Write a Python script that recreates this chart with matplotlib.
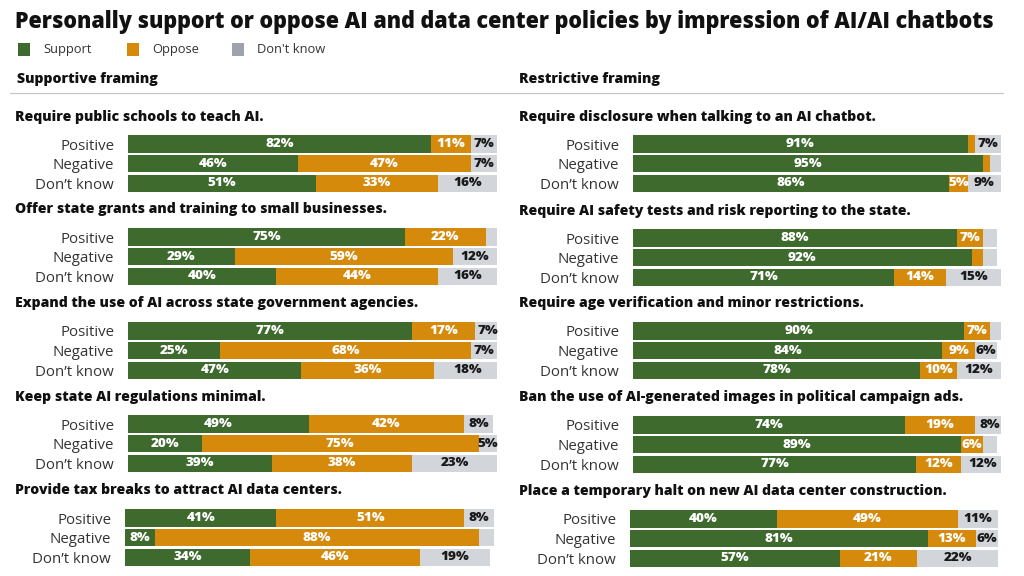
import numpy as np
import matplotlib
matplotlib.use("Agg")
import matplotlib.pyplot as plt
from matplotlib.patches import Rectangle

plt.rcParams['font.family'] = ['Open Sans', 'DejaVu Sans']

# Data (percent: support, oppose, don't know)
rows = ["Positive", "Negative", "Don\u2019t know"]

left_titles = [
    "Require public schools to teach AI.",
    "Offer state grants and training to small businesses.",
    "Expand the use of AI across state government agencies.",
    "Keep state AI regulations minimal.",
    "Provide tax breaks to attract AI data centers.",
]
left_support = [[82, 46, 51], [75, 29, 40], [77, 25, 47], [49, 20, 39], [41, 8, 34]]
left_oppose = [[11, 47, 33], [22, 59, 44], [17, 68, 36], [42, 75, 38], [51, 88, 46]]
left_dk = [[7, 7, 16], [3, 12, 16], [7, 7, 18], [8, 5, 23], [8, 4, 19]]

right_titles = [
    "Require disclosure when talking to an AI chatbot.",
    "Require AI safety tests and risk reporting to the state.",
    "Require age verification and minor restrictions.",
    "Ban the use of AI-generated images in political campaign ads.",
    "Place a temporary halt on new AI data center construction.",
]
right_support = [[91, 95, 86], [88, 92, 71], [90, 84, 78], [74, 89, 77], [40, 81, 57]]
right_oppose = [[2, 2, 5], [7, 3, 14], [7, 9, 10], [19, 6, 12], [49, 13, 21]]
right_dk = [[7, 3, 9], [4, 4, 15], [3, 6, 12], [8, 4, 12], [11, 6, 22]]

GREEN = "#3e6a2e"
ORANGE = "#d68a0c"
GRAY = "#d2d5da"
LEG_GRAY = "#9ea2aa"

W, H = 1024, 576
fig = plt.figure(figsize=(W / 100, H / 100), dpi=100)


def fx(px):
    return px / W


def fy(py):
    return 1 - py / H


fig.text(fx(15), fy(22), "Personally support or oppose AI and data center policies by impression of AI/AI chatbots",
         fontsize=15.5, fontweight="heavy", va="center", ha="left", color="#111111")

# legend
for x, lab, c in [(18, "Support", GREEN), (127, "Oppose", ORANGE), (232, "Don't know", LEG_GRAY)]:
    fig.patches.append(Rectangle((fx(x), fy(55.5)), fx(12), 12 / H, transform=fig.transFigure,
                                 facecolor=c, edgecolor="none"))
    fig.text(fx(x + 25), fy(49.5), lab, fontsize=9.3, va="center", ha="left", color="#333333")

fig.text(fx(17), fy(79), "Supportive framing", fontsize=10.2, fontweight="heavy", va="center", color="#111111")
fig.text(fx(519), fy(79), "Restrictive framing", fontsize=10.2, fontweight="heavy", va="center", color="#111111")
fig.add_artist(plt.Line2D([fx(10), fx(1003)], [fy(93), fy(93)], color="#c8c8c8", lw=0.9))

ROW = 19.6


def panel(x0, width, first_row, title, sup, opp, dk, title_x):
    top = first_row - ROW / 2
    ax = fig.add_axes([fx(x0), fy(top + 3 * ROW), fx(width), 3 * ROW / H])
    y = np.arange(3)
    s = np.array(sup)
    o = np.array(opp)
    d = np.array(dk)
    ax.barh(y, s, height=0.87, color=GREEN)
    ax.barh(y, o, left=s, height=0.87, color=ORANGE)
    ax.barh(y, d, left=s + o, height=0.87, color=GRAY)
    for i in range(3):
        for val, left, col in [(s[i], 0, "white"), (o[i], s[i], "white"), (d[i], s[i] + o[i], "#1a1a1a")]:
            if val >= 5:
                ax.text(left + val / 2, i, f"{val}%", ha="center", va="center",
                        fontsize=9.7, fontweight="heavy", color=col)
    ax.set_xlim(0, 100)
    ax.set_ylim(2.5, -0.5)
    ax.set_yticks(y)
    ax.set_yticklabels(rows, fontsize=10.8, color="#333333")
    ax.tick_params(axis="y", length=0, pad=10)
    ax.set_xticks([])
    for sp in ax.spines.values():
        sp.set_visible(False)
    fig.text(fx(title_x), fy(first_row - 27.5), title, fontsize=10.1, fontweight="heavy",
             va="center", ha="left", color="#111111")


left_rows = [144, 237, 331, 424, 518]
right_rows = [144, 238, 331, 425, 519]

for g in range(5):
    shift = -3 if g == 4 else 0
    panel(128 + shift, 369, left_rows[g], left_titles[g],
          left_support[g], left_oppose[g], left_dk[g], 15)
    panel(633 + shift, 368, right_rows[g], right_titles[g],
          right_support[g], right_oppose[g], right_dk[g], 519)

fig.savefig("out.png", dpi=100)
